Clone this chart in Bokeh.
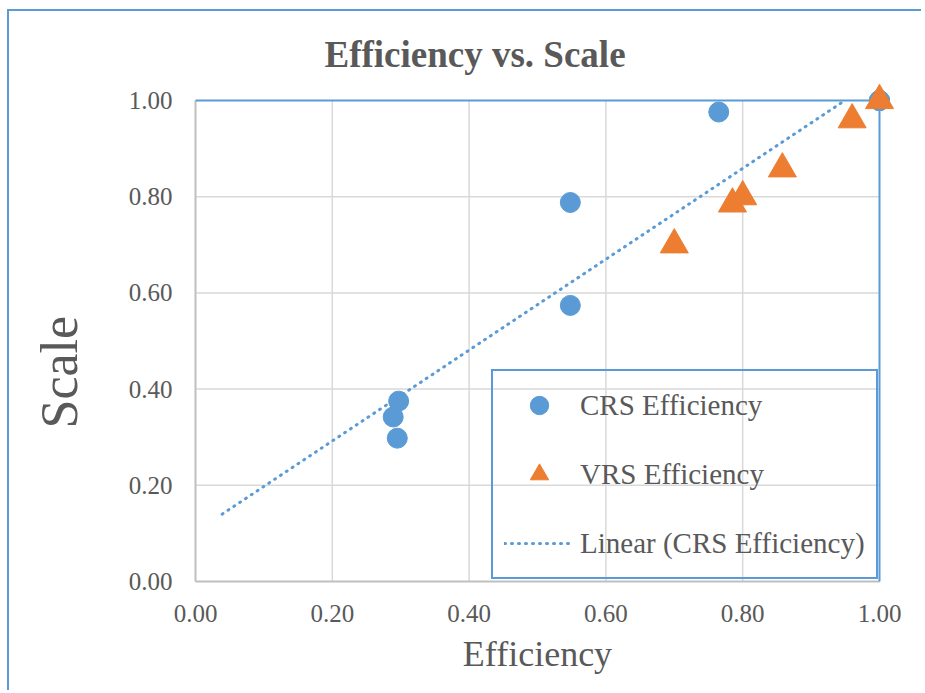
from bokeh.plotting import figure
from bokeh.models import FixedTicker, PrintfTickFormatter, Legend, LegendItem, Range1d
from bokeh.embed import file_html
from bokeh.resources import INLINE
import numpy as np

# ---- data ----
crs_x = [0.289, 0.295, 0.297, 0.548, 0.548, 0.765, 1.0, 1.0, 1.0]
crs_y = [0.342, 0.298, 0.375, 0.574, 0.788, 0.976, 1.0, 1.0, 1.0]
vrs_x = [0.700, 0.785, 0.800, 0.858, 0.960, 1.0]
vrs_y = [0.700, 0.785, 0.800, 0.858, 0.960, 1.0]
tick_values = [0.0, 0.2, 0.4, 0.6, 0.8, 1.0]
backward_forecast = 0.25

BLUE = "#5B9BD5"
ORANGE = "#ED7D31"
GRID = "#D9D9D9"
AXIS = "#BFBFBF"
TXT = "#595959"
FONT = "Liberation Serif"

# plot area 684 x 481 px for 0..1, plus 20 px of room so markers are not cut at the edge
UNIT_W, UNIT_H, PAD = 684, 481, 20
lo, hi = tick_values[0], tick_values[-1]
px = PAD / UNIT_W
py = PAD / UNIT_H

p = figure(width=912, height=679, output_backend="svg", toolbar_location=None,
           x_range=Range1d(lo - px, hi + px), y_range=Range1d(lo - py, hi + py),
           frame_width=UNIT_W + 2 * PAD, frame_height=UNIT_H + 2 * PAD,
           min_border_left=166, min_border_top=69, min_border_right=22, min_border_bottom=89)
p.styles = {"margin-left": "7px", "margin-top": "9px",
            "border-left": "2px solid " + BLUE, "border-top": "2px solid " + BLUE}
p.outline_line_color = None
p.xgrid.visible = False
p.ygrid.visible = False

p.title.text = "Efficiency vs. Scale"
p.title.text_font = FONT
p.title.text_font_size = "37px"
p.title.text_font_style = "bold"
p.title.text_color = TXT
p.title.align = "left"
p.title.offset = 149
p.title.standoff = 12

for ax in (p.xaxis[0], p.yaxis[0]):
    ax.ticker = FixedTicker(ticks=tick_values)
    ax.formatter = PrintfTickFormatter(format="%.2f")
    ax.major_tick_line_color = None
    ax.minor_tick_line_color = None
    ax.major_tick_out = 0
    ax.major_tick_in = 0
    ax.axis_line_color = None
    ax.major_label_text_font = FONT
    ax.major_label_text_font_size = "25px"
    ax.major_label_text_color = TXT
    ax.axis_label_text_font = FONT
    ax.axis_label_text_font_style = "normal"
    ax.axis_label_text_color = TXT

p.xaxis.axis_label = "Efficiency"
p.xaxis.axis_label_text_font_size = "36px"
p.xaxis.major_label_standoff = 3
p.xaxis.axis_label_standoff = 9

# trailing spaces push the visible word a little below the plot-area centre, as in the reference
p.yaxis.axis_label = "Scale\u2003\u2009"
p.yaxis.axis_label_text_font_size = "52px"
p.yaxis.major_label_standoff = 3
p.yaxis.axis_label_standoff = 38

# gridlines limited to the 0..1 plot area
inner = tick_values[1:-1]
p.segment(x0=inner, y0=[lo] * len(inner), x1=inner, y1=[hi] * len(inner),
          line_color=GRID, line_width=1.5)
p.segment(x0=[lo] * len(inner), y0=inner, x1=[hi] * len(inner), y1=inner,
          line_color=GRID, line_width=1.5)
# plot-area border: grey axes (left, bottom), blue top and right
p.segment(x0=[lo, lo], y0=[lo, lo], x1=[lo, hi], y1=[hi, lo], line_color=AXIS, line_width=2)
p.segment(x0=[lo, hi], y0=[hi, lo], x1=[hi, hi], y1=[hi, hi], line_color=BLUE, line_width=2)

# trendline (least squares on CRS series, with backward forecast, cut at the axis maximum)
slope, intercept = np.polyfit(crs_x, crs_y, 1)
x_start = min(crs_x) - backward_forecast
x_end = min(max(crs_x), (hi - intercept) / slope)
tx = [x_start, x_end]
ty = [slope * v + intercept for v in tx]
r_trend = p.line(tx, ty, line_color=BLUE, line_width=3, line_dash="1 6", line_cap="round")

r_crs = p.scatter(crs_x, crs_y, marker="circle", size=20, fill_color=BLUE, line_color=BLUE)
r_vrs = p.scatter(vrs_x, vrs_y, marker="triangle", size=28, fill_color=ORANGE, line_color=ORANGE)

legend = Legend(items=[LegendItem(label="CRS Efficiency", renderers=[r_crs]),
                       LegendItem(label="VRS Efficiency", renderers=[r_vrs]),
                       LegendItem(label="Linear (CRS Efficiency)", renderers=[r_trend])],
                location=(316, 22), margin=0, padding=11, spacing=23,
                glyph_height=46, glyph_width=70, label_standoff=6,
                label_text_font=FONT, label_text_font_size="29px", label_text_color=TXT,
                border_line_color=BLUE, border_line_width=2, border_line_alpha=1,
                background_fill_alpha=0)
p.add_layout(legend, "center")

open("out.html", "w").write(file_html(p, INLINE))
